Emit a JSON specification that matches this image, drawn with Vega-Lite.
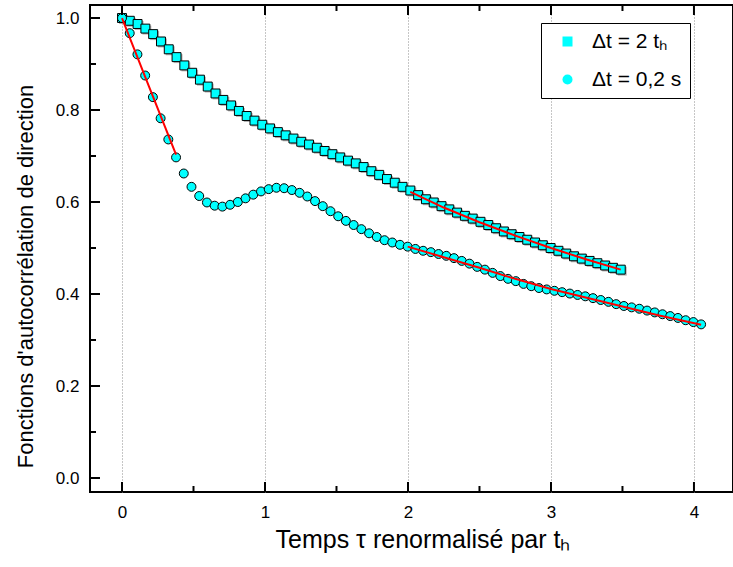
{
  "$schema": "https://vega.github.io/schema/vega-lite/v6.json",
  "width": 643,
  "height": 487,
  "autosize": {"type": "none"},
  "padding": {"left": 90, "top": 5, "right": 0, "bottom": 75},
  "background": "white",
  "config": {
    "font": "Liberation Sans",
    "view": {"stroke": "black", "strokeWidth": 2},
    "axis": {
      "domain": false,
      "ticks": false,
      "labelColor": "black",
      "titleColor": "black",
      "labelFontSize": 17,
      "titleFontSize": 22,
      "titleFontWeight": "normal",
      "labelFont": "Liberation Sans",
      "titleFont": "Liberation Sans",
      "labelOverlap": false,
      "labelFlush": false
    },
    "legend": {
      "orient": "none",
      "legendX": 451,
      "legendY": 18,
      "padding": 8,
      "strokeColor": "black",
      "fillColor": "white",
      "labelFontSize": 21,
      "labelFont": "Liberation Sans",
      "labelColor": "black",
      "symbolSize": 100,
      "symbolFillColor": "#00FFFF",
      "symbolStrokeColor": "black",
      "symbolStrokeWidth": 1,
      "symbolOffset": 8,
      "rowPadding": 16,
      "labelOffset": 14,
      "cornerRadius": 0
    }
  },
  "datasets": {
    "xmaj": [{"v": 0}, {"v": 1}, {"v": 2}, {"v": 3}, {"v": 4}],
    "xmin": [{"v": 0.5}, {"v": 1.5}, {"v": 2.5}, {"v": 3.5}],
    "ymaj": [{"v": 0}, {"v": 0.2}, {"v": 0.4}, {"v": 0.6}, {"v": 0.8}, {"v": 1.0}],
    "ymin": [{"v": 0.1}, {"v": 0.3}, {"v": 0.5}, {"v": 0.7}, {"v": 0.9}],
    "pts": [
      {"series": "Δt = 2 tₕ", "t": 0, "c": 1.0},
      {"series": "Δt = 2 tₕ", "t": 0.0545, "c": 0.994},
      {"series": "Δt = 2 tₕ", "t": 0.109, "c": 0.987},
      {"series": "Δt = 2 tₕ", "t": 0.1635, "c": 0.977},
      {"series": "Δt = 2 tₕ", "t": 0.218, "c": 0.965},
      {"series": "Δt = 2 tₕ", "t": 0.2725, "c": 0.949},
      {"series": "Δt = 2 tₕ", "t": 0.327, "c": 0.932},
      {"series": "Δt = 2 tₕ", "t": 0.3815, "c": 0.915},
      {"series": "Δt = 2 tₕ", "t": 0.436, "c": 0.897},
      {"series": "Δt = 2 tₕ", "t": 0.4905, "c": 0.881},
      {"series": "Δt = 2 tₕ", "t": 0.545, "c": 0.866},
      {"series": "Δt = 2 tₕ", "t": 0.5995, "c": 0.851},
      {"series": "Δt = 2 tₕ", "t": 0.654, "c": 0.836},
      {"series": "Δt = 2 tₕ", "t": 0.7085, "c": 0.822},
      {"series": "Δt = 2 tₕ", "t": 0.763, "c": 0.81},
      {"series": "Δt = 2 tₕ", "t": 0.8175, "c": 0.798},
      {"series": "Δt = 2 tₕ", "t": 0.872, "c": 0.787},
      {"series": "Δt = 2 tₕ", "t": 0.9265, "c": 0.777},
      {"series": "Δt = 2 tₕ", "t": 0.981, "c": 0.768},
      {"series": "Δt = 2 tₕ", "t": 1.0355, "c": 0.76},
      {"series": "Δt = 2 tₕ", "t": 1.09, "c": 0.752},
      {"series": "Δt = 2 tₕ", "t": 1.1445, "c": 0.745},
      {"series": "Δt = 2 tₕ", "t": 1.199, "c": 0.738},
      {"series": "Δt = 2 tₕ", "t": 1.2535, "c": 0.731},
      {"series": "Δt = 2 tₕ", "t": 1.308, "c": 0.725},
      {"series": "Δt = 2 tₕ", "t": 1.3625, "c": 0.718},
      {"series": "Δt = 2 tₕ", "t": 1.417, "c": 0.711},
      {"series": "Δt = 2 tₕ", "t": 1.4715, "c": 0.704},
      {"series": "Δt = 2 tₕ", "t": 1.526, "c": 0.697},
      {"series": "Δt = 2 tₕ", "t": 1.5805, "c": 0.69},
      {"series": "Δt = 2 tₕ", "t": 1.635, "c": 0.684},
      {"series": "Δt = 2 tₕ", "t": 1.6895, "c": 0.676},
      {"series": "Δt = 2 tₕ", "t": 1.744, "c": 0.667},
      {"series": "Δt = 2 tₕ", "t": 1.7985, "c": 0.659},
      {"series": "Δt = 2 tₕ", "t": 1.853, "c": 0.65},
      {"series": "Δt = 2 tₕ", "t": 1.9075, "c": 0.642},
      {"series": "Δt = 2 tₕ", "t": 1.962, "c": 0.633},
      {"series": "Δt = 2 tₕ", "t": 2.0165, "c": 0.625},
      {"series": "Δt = 2 tₕ", "t": 2.071, "c": 0.615},
      {"series": "Δt = 2 tₕ", "t": 2.1255, "c": 0.606},
      {"series": "Δt = 2 tₕ", "t": 2.18, "c": 0.599},
      {"series": "Δt = 2 tₕ", "t": 2.2345, "c": 0.591},
      {"series": "Δt = 2 tₕ", "t": 2.289, "c": 0.584},
      {"series": "Δt = 2 tₕ", "t": 2.3435, "c": 0.577},
      {"series": "Δt = 2 tₕ", "t": 2.398, "c": 0.57},
      {"series": "Δt = 2 tₕ", "t": 2.4525, "c": 0.564},
      {"series": "Δt = 2 tₕ", "t": 2.507, "c": 0.557},
      {"series": "Δt = 2 tₕ", "t": 2.5615, "c": 0.55},
      {"series": "Δt = 2 tₕ", "t": 2.616, "c": 0.543},
      {"series": "Δt = 2 tₕ", "t": 2.6705, "c": 0.536},
      {"series": "Δt = 2 tₕ", "t": 2.725, "c": 0.53},
      {"series": "Δt = 2 tₕ", "t": 2.7795, "c": 0.524},
      {"series": "Δt = 2 tₕ", "t": 2.834, "c": 0.518},
      {"series": "Δt = 2 tₕ", "t": 2.8885, "c": 0.512},
      {"series": "Δt = 2 tₕ", "t": 2.943, "c": 0.506},
      {"series": "Δt = 2 tₕ", "t": 2.9975, "c": 0.5},
      {"series": "Δt = 2 tₕ", "t": 3.052, "c": 0.494},
      {"series": "Δt = 2 tₕ", "t": 3.1065, "c": 0.488},
      {"series": "Δt = 2 tₕ", "t": 3.161, "c": 0.482},
      {"series": "Δt = 2 tₕ", "t": 3.2155, "c": 0.477},
      {"series": "Δt = 2 tₕ", "t": 3.27, "c": 0.472},
      {"series": "Δt = 2 tₕ", "t": 3.3245, "c": 0.467},
      {"series": "Δt = 2 tₕ", "t": 3.379, "c": 0.462},
      {"series": "Δt = 2 tₕ", "t": 3.4335, "c": 0.457},
      {"series": "Δt = 2 tₕ", "t": 3.488, "c": 0.453},
      {"series": "Δt = 0,2 s", "t": 0, "c": 1.0},
      {"series": "Δt = 0,2 s", "t": 0.054, "c": 0.967},
      {"series": "Δt = 0,2 s", "t": 0.108, "c": 0.921},
      {"series": "Δt = 0,2 s", "t": 0.162, "c": 0.875},
      {"series": "Δt = 0,2 s", "t": 0.216, "c": 0.828},
      {"series": "Δt = 0,2 s", "t": 0.27, "c": 0.782},
      {"series": "Δt = 0,2 s", "t": 0.324, "c": 0.736},
      {"series": "Δt = 0,2 s", "t": 0.378, "c": 0.697},
      {"series": "Δt = 0,2 s", "t": 0.432, "c": 0.662},
      {"series": "Δt = 0,2 s", "t": 0.486, "c": 0.633},
      {"series": "Δt = 0,2 s", "t": 0.54, "c": 0.613},
      {"series": "Δt = 0,2 s", "t": 0.594, "c": 0.599},
      {"series": "Δt = 0,2 s", "t": 0.648, "c": 0.592},
      {"series": "Δt = 0,2 s", "t": 0.702, "c": 0.59},
      {"series": "Δt = 0,2 s", "t": 0.756, "c": 0.594},
      {"series": "Δt = 0,2 s", "t": 0.81, "c": 0.6},
      {"series": "Δt = 0,2 s", "t": 0.864, "c": 0.608},
      {"series": "Δt = 0,2 s", "t": 0.918, "c": 0.616},
      {"series": "Δt = 0,2 s", "t": 0.972, "c": 0.623},
      {"series": "Δt = 0,2 s", "t": 1.026, "c": 0.628},
      {"series": "Δt = 0,2 s", "t": 1.08, "c": 0.631},
      {"series": "Δt = 0,2 s", "t": 1.134, "c": 0.63},
      {"series": "Δt = 0,2 s", "t": 1.188, "c": 0.626},
      {"series": "Δt = 0,2 s", "t": 1.242, "c": 0.62},
      {"series": "Δt = 0,2 s", "t": 1.296, "c": 0.612},
      {"series": "Δt = 0,2 s", "t": 1.35, "c": 0.602},
      {"series": "Δt = 0,2 s", "t": 1.404, "c": 0.591},
      {"series": "Δt = 0,2 s", "t": 1.458, "c": 0.58},
      {"series": "Δt = 0,2 s", "t": 1.512, "c": 0.569},
      {"series": "Δt = 0,2 s", "t": 1.566, "c": 0.559},
      {"series": "Δt = 0,2 s", "t": 1.62, "c": 0.55},
      {"series": "Δt = 0,2 s", "t": 1.674, "c": 0.541},
      {"series": "Δt = 0,2 s", "t": 1.728, "c": 0.532},
      {"series": "Δt = 0,2 s", "t": 1.782, "c": 0.524},
      {"series": "Δt = 0,2 s", "t": 1.836, "c": 0.517},
      {"series": "Δt = 0,2 s", "t": 1.89, "c": 0.512},
      {"series": "Δt = 0,2 s", "t": 1.944, "c": 0.507},
      {"series": "Δt = 0,2 s", "t": 1.998, "c": 0.503},
      {"series": "Δt = 0,2 s", "t": 2.052, "c": 0.498},
      {"series": "Δt = 0,2 s", "t": 2.106, "c": 0.494},
      {"series": "Δt = 0,2 s", "t": 2.16, "c": 0.491},
      {"series": "Δt = 0,2 s", "t": 2.214, "c": 0.487},
      {"series": "Δt = 0,2 s", "t": 2.268, "c": 0.483},
      {"series": "Δt = 0,2 s", "t": 2.322, "c": 0.478},
      {"series": "Δt = 0,2 s", "t": 2.376, "c": 0.472},
      {"series": "Δt = 0,2 s", "t": 2.43, "c": 0.466},
      {"series": "Δt = 0,2 s", "t": 2.484, "c": 0.459},
      {"series": "Δt = 0,2 s", "t": 2.538, "c": 0.453},
      {"series": "Δt = 0,2 s", "t": 2.592, "c": 0.446},
      {"series": "Δt = 0,2 s", "t": 2.646, "c": 0.439},
      {"series": "Δt = 0,2 s", "t": 2.7, "c": 0.433},
      {"series": "Δt = 0,2 s", "t": 2.754, "c": 0.428},
      {"series": "Δt = 0,2 s", "t": 2.808, "c": 0.422},
      {"series": "Δt = 0,2 s", "t": 2.862, "c": 0.417},
      {"series": "Δt = 0,2 s", "t": 2.916, "c": 0.413},
      {"series": "Δt = 0,2 s", "t": 2.97, "c": 0.41},
      {"series": "Δt = 0,2 s", "t": 3.024, "c": 0.407},
      {"series": "Δt = 0,2 s", "t": 3.078, "c": 0.404},
      {"series": "Δt = 0,2 s", "t": 3.132, "c": 0.401},
      {"series": "Δt = 0,2 s", "t": 3.186, "c": 0.398},
      {"series": "Δt = 0,2 s", "t": 3.24, "c": 0.395},
      {"series": "Δt = 0,2 s", "t": 3.294, "c": 0.391},
      {"series": "Δt = 0,2 s", "t": 3.348, "c": 0.387},
      {"series": "Δt = 0,2 s", "t": 3.402, "c": 0.383},
      {"series": "Δt = 0,2 s", "t": 3.456, "c": 0.378},
      {"series": "Δt = 0,2 s", "t": 3.51, "c": 0.374},
      {"series": "Δt = 0,2 s", "t": 3.564, "c": 0.371},
      {"series": "Δt = 0,2 s", "t": 3.618, "c": 0.368},
      {"series": "Δt = 0,2 s", "t": 3.672, "c": 0.364},
      {"series": "Δt = 0,2 s", "t": 3.726, "c": 0.36},
      {"series": "Δt = 0,2 s", "t": 3.78, "c": 0.356},
      {"series": "Δt = 0,2 s", "t": 3.834, "c": 0.352},
      {"series": "Δt = 0,2 s", "t": 3.888, "c": 0.348},
      {"series": "Δt = 0,2 s", "t": 3.942, "c": 0.343},
      {"series": "Δt = 0,2 s", "t": 3.996, "c": 0.339},
      {"series": "Δt = 0,2 s", "t": 4.05, "c": 0.334}
    ],
    "fits": [
      {"fit": "c0", "t": 0, "c": 1.0},
      {"fit": "c0", "t": 0.189, "c": 0.851},
      {"fit": "c0", "t": 0.378, "c": 0.703},
      {"fit": "s1", "t": 2.016, "c": 0.622},
      {"fit": "s1", "t": 2.25, "c": 0.588},
      {"fit": "s1", "t": 2.5, "c": 0.556},
      {"fit": "s1", "t": 2.75, "c": 0.527},
      {"fit": "s1", "t": 3.0, "c": 0.5},
      {"fit": "s1", "t": 3.25, "c": 0.475},
      {"fit": "s1", "t": 3.488, "c": 0.453},
      {"fit": "c1", "t": 1.998, "c": 0.503},
      {"fit": "c1", "t": 2.25, "c": 0.48},
      {"fit": "c1", "t": 2.5, "c": 0.457},
      {"fit": "c1", "t": 2.75, "c": 0.433},
      {"fit": "c1", "t": 3.0, "c": 0.411},
      {"fit": "c1", "t": 3.25, "c": 0.392},
      {"fit": "c1", "t": 3.5, "c": 0.373},
      {"fit": "c1", "t": 3.75, "c": 0.354},
      {"fit": "c1", "t": 4.05, "c": 0.333}
    ]
  },
  "resolve": {"axis": {"x": "independent", "y": "independent"}},
  "layer": [
    {
      "data": {"name": "pts"},
      "transform": [{"filter": "datum.series === 'Δt = 2 tₕ'"}],
      "mark": {"type": "point", "shape": "square", "filled": true, "fill": "#808080", "opacity": 0.6, "size": 80, "xOffset": 1.5, "yOffset": 1.5, "strokeWidth": 0},
      "encoding": {
        "x": {
          "field": "t", "type": "quantitative",
          "scale": {"domain": [-0.2238, 4.273], "nice": false, "zero": false},
          "axis": {
            "orient": "bottom",
            "values": [0, 1, 2, 3, 4],
            "format": "d",
            "labelPadding": 12,
            "grid": true,
            "gridColor": "#8c8c8c",
            "gridDash": [1, 2],
            "gridWidth": 1,
            "title": "Temps τ renormalisé par tₕ",
            "titleFontSize": 25,
            "titleAlign": "left",
            "titleAnchor": null,
            "titleX": 185,
            "titleY": 55,
            "titleBaseline": "alphabetic"
          }
        },
        "y": {
          "field": "c", "type": "quantitative",
          "scale": {"domain": [-0.0304, 1.0283], "nice": false, "zero": false},
          "axis": {
            "orient": "left",
            "values": [0, 0.2, 0.4, 0.6, 0.8, 1.0],
            "format": ".1f",
            "labelPadding": 11,
            "grid": false,
            "title": "Fonctions d'autocorrélation de direction",
            "titleAngle": -90,
            "titleAlign": "center",
            "titleAnchor": null,
            "titleBaseline": "alphabetic",
            "titleX": -58,
            "titleY": 271
          }
        }
      }
    },
    {
      "data": {"name": "pts"},
      "mark": {"type": "point", "filled": true, "fill": "#00FFFF", "stroke": "black", "strokeWidth": 1, "opacity": 1, "size": 80},
      "encoding": {
        "x": {"field": "t", "type": "quantitative", "scale": {"domain": [-0.2238, 4.273], "nice": false, "zero": false}, "axis": null},
        "y": {"field": "c", "type": "quantitative", "scale": {"domain": [-0.0304, 1.0283], "nice": false, "zero": false}, "axis": null},
        "shape": {
          "field": "series", "type": "nominal",
          "scale": {"domain": ["Δt = 2 tₕ", "Δt = 0,2 s"], "range": ["square", "circle"]},
          "legend": {"title": null}
        }
      }
    },
    {
      "data": {"name": "fits"},
      "mark": {"type": "line", "color": "#FF0000", "strokeWidth": 2},
      "encoding": {
        "x": {"field": "t", "type": "quantitative", "scale": {"domain": [-0.2238, 4.273], "nice": false, "zero": false}, "axis": null},
        "y": {"field": "c", "type": "quantitative", "scale": {"domain": [-0.0304, 1.0283], "nice": false, "zero": false}, "axis": null},
        "detail": {"field": "fit", "type": "nominal"}
      }
    },
    {
      "data": {"name": "xmaj"},
      "mark": {"type": "tick", "orient": "vertical", "size": 20, "thickness": 2, "color": "black", "opacity": 1, "clip": true},
      "encoding": {
        "x": {"field": "v", "type": "quantitative", "scale": {"domain": [-0.2238, 4.273], "nice": false, "zero": false}, "axis": null},
        "y": {"datum": -0.0304, "type": "quantitative", "scale": {"domain": [-0.0304, 1.0283], "nice": false, "zero": false}, "axis": null}
      }
    },
    {
      "data": {"name": "xmaj"},
      "mark": {"type": "tick", "orient": "vertical", "size": 20, "thickness": 2, "color": "black", "opacity": 1, "clip": true},
      "encoding": {
        "x": {"field": "v", "type": "quantitative", "scale": {"domain": [-0.2238, 4.273], "nice": false, "zero": false}, "axis": null},
        "y": {"datum": 1.0283, "type": "quantitative", "scale": {"domain": [-0.0304, 1.0283], "nice": false, "zero": false}, "axis": null}
      }
    },
    {
      "data": {"name": "xmin"},
      "mark": {"type": "tick", "orient": "vertical", "size": 12, "thickness": 2, "color": "black", "opacity": 1, "clip": true},
      "encoding": {
        "x": {"field": "v", "type": "quantitative", "scale": {"domain": [-0.2238, 4.273], "nice": false, "zero": false}, "axis": null},
        "y": {"datum": -0.0304, "type": "quantitative", "scale": {"domain": [-0.0304, 1.0283], "nice": false, "zero": false}, "axis": null}
      }
    },
    {
      "data": {"name": "xmin"},
      "mark": {"type": "tick", "orient": "vertical", "size": 12, "thickness": 2, "color": "black", "opacity": 1, "clip": true},
      "encoding": {
        "x": {"field": "v", "type": "quantitative", "scale": {"domain": [-0.2238, 4.273], "nice": false, "zero": false}, "axis": null},
        "y": {"datum": 1.0283, "type": "quantitative", "scale": {"domain": [-0.0304, 1.0283], "nice": false, "zero": false}, "axis": null}
      }
    },
    {
      "data": {"name": "ymaj"},
      "mark": {"type": "tick", "orient": "horizontal", "size": 20, "thickness": 2, "color": "black", "opacity": 1, "clip": true},
      "encoding": {
        "y": {"field": "v", "type": "quantitative", "scale": {"domain": [-0.0304, 1.0283], "nice": false, "zero": false}, "axis": null},
        "x": {"datum": -0.2238, "type": "quantitative", "scale": {"domain": [-0.2238, 4.273], "nice": false, "zero": false}, "axis": null}
      }
    },
    {
      "data": {"name": "ymin"},
      "mark": {"type": "tick", "orient": "horizontal", "size": 12, "thickness": 2, "color": "black", "opacity": 1, "clip": true},
      "encoding": {
        "y": {"field": "v", "type": "quantitative", "scale": {"domain": [-0.0304, 1.0283], "nice": false, "zero": false}, "axis": null},
        "x": {"datum": -0.2238, "type": "quantitative", "scale": {"domain": [-0.2238, 4.273], "nice": false, "zero": false}, "axis": null}
      }
    }
  ]
}
